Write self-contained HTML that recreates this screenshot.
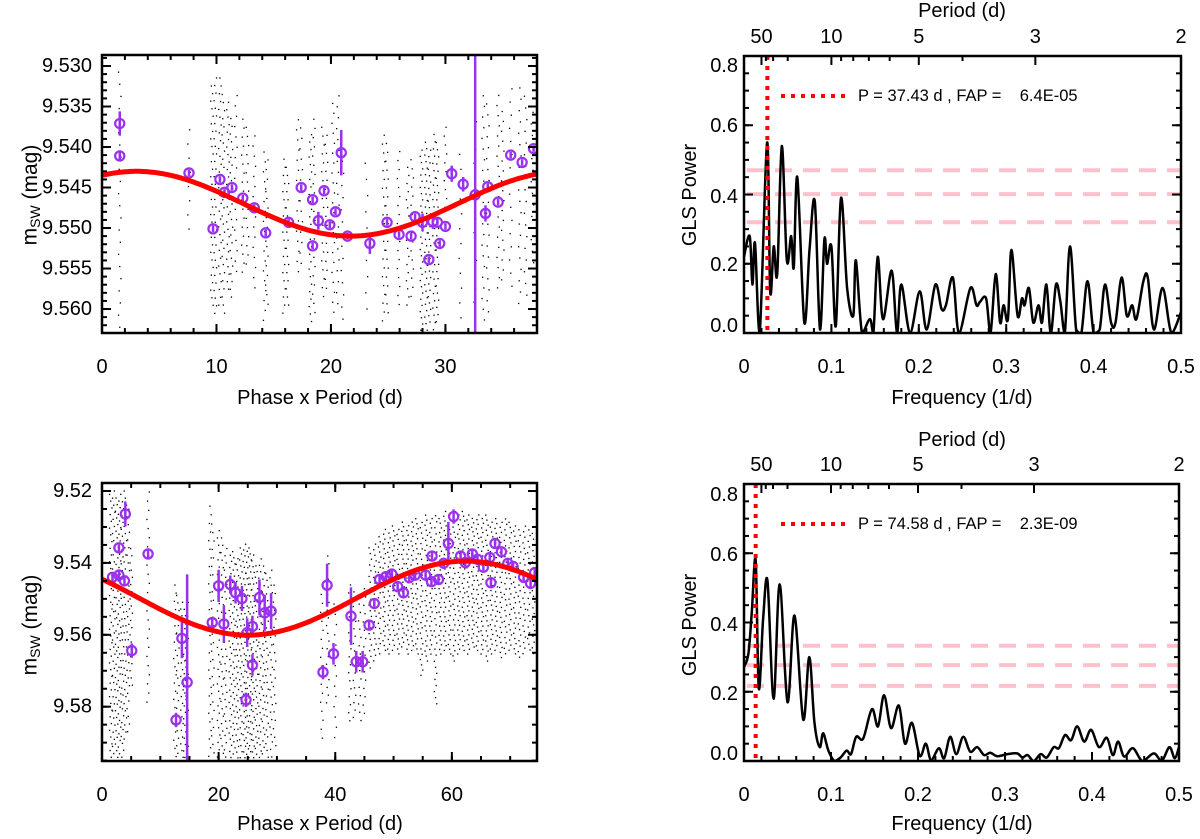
<!DOCTYPE html>
<html><head><meta charset="utf-8"><style>
html,body{margin:0;padding:0;background:#fff;}
svg{display:block;font-family:"Liberation Sans",Arial,sans-serif;}
</style></head><body>
<svg id="chart" width="1200" height="839" viewBox="0 0 1200 839" xmlns="http://www.w3.org/2000/svg">
<defs>
<clipPath id="cTL"><rect x="102" y="55" width="435" height="278"/></clipPath>
<clipPath id="cBL"><rect x="102" y="483" width="435" height="278"/></clipPath>
<clipPath id="cTR"><rect x="744" y="56" width="437" height="277"/></clipPath>
<clipPath id="cBR"><rect x="744" y="484" width="435" height="277"/></clipPath>
</defs>
</svg>
<script>
// ---------- DATA ----------
// Top-left: phase-folded light curve, P = 37.43 d
const tlPhase = [1.55,1.55,7.6,9.7,10.3,10.7,11.35,12.3,13.3,14.3,16.3,17.4,18.4,18.4,18.9,19.4,19.9,20.4,20.9,21.45,23.4,24.9,25.95,27.0,27.35,28.0,28.55,28.9,29.3,29.5,30.0,30.55,31.55,32.6,33.5,33.7,34.6,35.7,36.7,37.7];
const tlMag   = [9.5371,9.5411,9.5432,9.5501,9.5440,9.5456,9.5450,9.5463,9.5475,9.5506,9.5493,9.5450,9.5522,9.5465,9.5491,9.5454,9.5496,9.5480,9.5407,9.5510,9.5519,9.5493,9.5508,9.5510,9.5486,9.5493,9.5539,9.5492,9.5493,9.5519,9.5498,9.5433,9.5446,9.5459,9.5482,9.5449,9.5468,9.5410,9.5419,9.5402];
const tlErr   = [0.0015,0.0005,0.0004,0.0004,0.0004,0.0004,0.0004,0.0004,0.0004,0.0004,0.0004,0.0004,0.0004,0.0004,0.0011,0.0004,0.0004,0.0004,0.0028,0.0004,0.0013,0.0004,0.0004,0.0004,0.0004,0.0011,0.0004,0.0009,0.0004,0.0004,0.0004,0.0010,0.0009,0.0300,0.0010,0.0004,0.0004,0.0004,0.0004,0.0004];
const tlFit = [9.5470, 0.0040, 3.0, 37.43]; // mean, amplitude, phase of max brightness, period
// raw photometry columns: phase, top mag, bottom mag, number of points
const tlColX   = [1.55,7.6,9.6,9.9,10.3,10.6,11.0,11.3,11.7,12.3,12.7,13.3,14.2,14.4,15.9,16.2,17.1,17.4,18.2,18.5,19.3,19.6,20.2,20.6,21.0,23.1,24.6,24.9,25.9,26.7,27.1,27.9,28.3,28.6,29.0,29.3,30.0,31.3,32.6,33.3,33.7,34.6,35.0,35.7,36.5,37.0,37.6];
const tlColTop = [9.530,9.537,9.532,9.531,9.531,9.533,9.534,9.536,9.533,9.536,9.537,9.538,9.540,9.541,9.541,9.542,9.536,9.537,9.538,9.536,9.537,9.538,9.534,9.533,9.541,9.541,9.538,9.539,9.540,9.542,9.541,9.540,9.539,9.540,9.538,9.539,9.537,9.540,9.536,9.533,9.534,9.533,9.535,9.532,9.532,9.533,9.535];
const tlColBot = [9.563,9.551,9.560,9.561,9.560,9.561,9.558,9.559,9.556,9.556,9.555,9.558,9.562,9.560,9.561,9.560,9.556,9.555,9.562,9.561,9.559,9.558,9.561,9.560,9.562,9.561,9.562,9.561,9.560,9.560,9.559,9.563,9.563,9.562,9.563,9.562,9.548,9.562,9.560,9.562,9.561,9.558,9.557,9.558,9.560,9.559,9.555];
const tlColN   = [22,8,30,32,30,28,26,24,18,18,16,16,18,16,20,18,16,14,26,22,20,18,22,20,14,10,22,20,18,18,16,30,30,28,28,26,10,12,14,22,20,20,18,16,20,18,14];

// Bottom-left: phase-folded light curve, P = 74.58 d
const blPhase = [1.8,2.9,2.9,4.0,3.85,5.1,7.9,12.7,13.7,14.6,18.9,20.0,20.9,22.0,22.9,24.0,24.7,24.9,25.8,25.8,27.0,27.9,29.0,37.9,38.6,39.7,42.7,43.6,44.7,45.8,46.7,47.6,48.7,49.7,50.7,51.7,52.7,53.7,55.5,56.5,56.6,57.7,58.6,59.4,60.3,61.5,62.3,63.5,64.4,65.4,66.5,66.7,67.4,68.5,69.6,70.5,72.3,73.5,74.2];
const blMag   = [9.5440,9.5358,9.5434,9.5264,9.5450,9.5644,9.5375,9.5837,9.5610,9.5732,9.5566,9.5464,9.5570,9.5460,9.5483,9.5499,9.5781,9.5594,9.5577,9.5684,9.5496,9.5539,9.5534,9.5704,9.5462,9.5653,9.5548,9.5675,9.5675,9.5573,9.5513,9.5446,9.5438,9.5431,9.5466,9.5483,9.5441,9.5434,9.5434,9.5452,9.5381,9.5446,9.5401,9.5346,9.5271,9.5381,9.5399,9.5375,9.5390,9.5412,9.5385,9.5455,9.5346,9.5369,9.5401,9.5410,9.5440,9.5457,9.5427];
const blErr   = [0.001,0.001,0.001,0.0035,0.001,0.002,0.001,0.002,0.0055,0.030,0.0015,0.0045,0.005,0.0025,0.003,0.0035,0.002,0.004,0.003,0.003,0.005,0.005,0.005,0.002,0.006,0.003,0.008,0.003,0.003,0.001,0.001,0.001,0.001,0.001,0.001,0.001,0.001,0.001,0.001,0.001,0.001,0.001,0.001,0.006,0.002,0.001,0.001,0.001,0.001,0.001,0.001,0.0015,0.001,0.001,0.001,0.001,0.001,0.001,0.001];
const blFit = [9.5498, 0.0103, 62.3, 74.58];
const blColX   = [1.5,2.0,2.5,3.0,3.5,4.0,4.5,5.0,7.9,12.5,13.0,13.7,14.2,14.6,18.5,19.0,20.0,20.6,21.2,22.0,22.6,23.2,23.8,24.4,24.9,25.4,25.9,26.5,27.1,27.7,28.3,29.0,29.6,37.7,38.7,40.0,42.5,43.3,44.2,45.0,46.0,46.8,47.6,48.4,49.2,50.0,50.8,51.6,52.4,53.2,54.0,54.8,55.6,56.4,57.2,58.0,58.8,59.6,60.4,61.2,62.0,62.8,63.6,64.4,65.2,66.0,66.8,67.6,68.4,69.2,70.0,70.8,71.6,72.4,73.2,74.0];
const blColTop = [9.520,9.519,9.521,9.520,9.522,9.519,9.524,9.535,9.519,9.545,9.548,9.550,9.552,9.550,9.523,9.528,9.530,9.532,9.535,9.537,9.536,9.538,9.535,9.534,9.536,9.535,9.537,9.540,9.538,9.540,9.542,9.541,9.545,9.545,9.537,9.550,9.545,9.547,9.548,9.546,9.535,9.534,9.532,9.530,9.531,9.529,9.530,9.528,9.529,9.528,9.527,9.528,9.526,9.527,9.526,9.527,9.525,9.526,9.525,9.526,9.525,9.526,9.527,9.526,9.527,9.526,9.528,9.527,9.528,9.527,9.528,9.529,9.530,9.529,9.530,9.531];
const blColBot = [9.595,9.594,9.595,9.594,9.595,9.590,9.588,9.575,9.580,9.595,9.594,9.595,9.595,9.594,9.595,9.594,9.595,9.594,9.595,9.595,9.594,9.595,9.595,9.595,9.594,9.595,9.595,9.594,9.595,9.594,9.595,9.595,9.592,9.590,9.580,9.590,9.585,9.584,9.585,9.583,9.570,9.568,9.566,9.565,9.566,9.565,9.566,9.564,9.566,9.565,9.566,9.572,9.568,9.566,9.580,9.566,9.565,9.566,9.568,9.566,9.565,9.566,9.564,9.565,9.566,9.568,9.566,9.565,9.567,9.566,9.565,9.566,9.567,9.566,9.565,9.566];
const blColN   = [40,38,40,40,38,36,30,20,24,22,22,24,24,22,30,28,32,30,30,34,34,36,36,38,38,36,36,34,32,30,28,26,20,18,20,14,18,18,16,16,22,22,24,26,26,26,26,28,28,28,28,30,30,30,32,30,30,30,30,30,30,30,30,30,30,30,28,28,28,26,26,26,24,24,22,22];

// Top-right periodogram
const trFreq  = [0,0.0065,0.0096,0.0126,0.018,0.0264,0.030,0.034,0.038,0.0433,0.049,0.054,0.057,0.061,0.069,0.075,0.081,0.087,0.092,0.095,0.100,0.105,0.111,0.118,0.125,0.128,0.135,0.144,0.148,0.153,0.159,0.169,0.175,0.180,0.190,0.201,0.209,0.219,0.226,0.231,0.239,0.246,0.259,0.266,0.270,0.277,0.282,0.288,0.293,0.297,0.302,0.306,0.313,0.318,0.321,0.326,0.331,0.337,0.341,0.346,0.351,0.357,0.362,0.367,0.373,0.380,0.386,0.393,0.400,0.407,0.413,0.420,0.425,0.432,0.438,0.444,0.449,0.457,0.462,0.469,0.479,0.489,0.500];
const trPower = [0.22,0.28,0.14,0.26,0.0,0.55,0.12,0.25,0.17,0.54,0.21,0.28,0.19,0.45,0.03,0.24,0.38,0.01,0.27,0.20,0.25,0.02,0.39,0.13,0.05,0.21,0.0,0.04,0.0,0.22,0.04,0.18,0.0,0.14,0.0,0.12,0.01,0.14,0.07,0.08,0.16,0.0,0.13,0.08,0.09,0.10,0.0,0.17,0.03,0.08,0.04,0.24,0.05,0.10,0.08,0.13,0.03,0.08,0.03,0.14,0.0,0.14,0.09,0.0,0.25,0.01,0.0,0.15,0.0,0.01,0.14,0.03,0.03,0.16,0.05,0.08,0.04,0.15,0.16,0.01,0.13,0.0,0.06];
const trFap = [0.470,0.401,0.320];
const trBest = 37.43;
const trLabel = "P = 37.43 d , FAP =    6.4E-05";

// Bottom-right periodogram
const brFreq  = [0,0.005,0.009,0.0134,0.017,0.022,0.027,0.034,0.041,0.050,0.058,0.068,0.075,0.081,0.087,0.091,0.097,0.104,0.111,0.118,0.123,0.129,0.137,0.147,0.154,0.161,0.169,0.178,0.185,0.193,0.202,0.209,0.215,0.224,0.230,0.237,0.244,0.252,0.260,0.268,0.276,0.283,0.291,0.303,0.314,0.320,0.326,0.333,0.341,0.348,0.356,0.362,0.369,0.376,0.383,0.391,0.399,0.408,0.417,0.424,0.430,0.437,0.447,0.458,0.471,0.480,0.489,0.495,0.500];
const brPower = [0.27,0.31,0.43,0.58,0.21,0.41,0.52,0.18,0.51,0.17,0.42,0.12,0.30,0.11,0.04,0.08,0.03,0.0,0.01,0.03,0.02,0.07,0.065,0.15,0.10,0.19,0.095,0.16,0.05,0.11,0.015,0.05,0.003,0.037,0.008,0.07,0.02,0.07,0.027,0.04,0.017,0.024,0.014,0.02,0.022,0.01,0.017,0.0,0.02,0.01,0.04,0.037,0.075,0.06,0.10,0.056,0.09,0.04,0.067,0.017,0.056,0.013,0.037,0.0,0.022,0.0,0.04,0.008,0.04];
const brFap = [0.333,0.277,0.217];
const brBest = 74.58;
const brLabel = "P = 74.58 d , FAP =    2.3E-09";

const periodTicks = [50,10,5,3,2];
const periodMinor = [40,30,20,9,8,7,6,4];

// ---------- DRAWING ----------
const NS = "http://www.w3.org/2000/svg";
const svg = document.getElementById('chart');
function mk(tag, attrs, parent){
  const e = document.createElementNS(NS, tag);
  for (const k in attrs) e.setAttribute(k, attrs[k]);
  (parent||svg).appendChild(e);
  return e;
}
function txt(s, x, y, size, anchor, parent, rot){
  const t = mk('text', {x:x, y:y, 'font-size':size, 'text-anchor':anchor||'middle', 'dominant-baseline':'central', fill:'#000'}, parent);
  if (rot) t.setAttribute('transform', 'rotate(-90 '+x+' '+y+')');
  t.textContent = s;
  return t;
}
function panel(x0,x1,y0,y1,xmin,xmax,ymin,ymax,invert){
  return {x0,x1,y0,y1,
    sx: v => x0 + (v-xmin)/(xmax-xmin)*(x1-x0),
    sy: v => invert ? y0 + (v-ymin)/(ymax-ymin)*(y1-y0) : y1 - (v-ymin)/(ymax-ymin)*(y1-y0)};
}
function frame(p, name){
  const r = mk('rect', {x:p.x0, y:p.y0, width:p.x1-p.x0, height:p.y1-p.y0, fill:'none', stroke:'#000', 'stroke-width':2.5});
  
  
}
function xticks(p, vals, len, bothSides){
  const g = mk('g', {stroke:'#000','stroke-width':2});
  vals.forEach(v => {
    const x = p.sx(v);
    mk('line', {x1:x, x2:x, y1:p.y1, y2:p.y1-len}, g);
    if (bothSides) mk('line', {x1:x, x2:x, y1:p.y0, y2:p.y0+len}, g);
  });
  return g;
}
function yticks(p, vals, len){
  const g = mk('g', {stroke:'#000','stroke-width':2});
  vals.forEach(v => {
    const y = p.sy(v);
    mk('line', {x1:p.x0, x2:p.x0+len, y1:y, y2:y}, g);
    mk('line', {x1:p.x1, x2:p.x1-len, y1:y, y2:y}, g);
  });
  return g;
}
function range(a,b,s){ const r=[]; for(let v=a; v<=b+1e-9; v+=s) r.push(+v.toFixed(6)); return r; }

function lightPanel(p, clip, phase, mag, err, fit, colX, colTop, colBot, colN, xmax, prefix){
  const g = mk('g', {'clip-path':'url(#'+clip+')'});
  
  
  const dg = mk('g', {fill:'#000'}, g);
  
  
  colX.forEach((cx, i) => {
    const n = colN[i];
    for (let k=0; k<n; k++){
      const v = colTop[i] + (colBot[i]-colTop[i]) * (k+0.5)/n;
      const jx = ((k*7 + i*3) % 5 - 2) * 0.6;
      mk('rect', {x:(p.sx(cx)+jx-0.6).toFixed(1), y:(p.sy(v)-0.6).toFixed(1), width:1.3, height:1.3}, dg);
    }
  });
  let d = '';
  for (let i=0; i<=200; i++){
    const x = xmax*i/200;
    const y = fit[0] - fit[1]*Math.cos(2*Math.PI*(x-fit[2])/fit[3]);
    d += (i?'L':'M') + p.sx(x).toFixed(1) + ',' + p.sy(y).toFixed(1);
  }
  const bg = mk('g', {stroke:'#9b30f0', fill:'none', 'stroke-width':2.2}, g);
  
  
  phase.forEach((ph, i) => {
    const x = p.sx(ph);
    mk('line', {x1:x, x2:x, y1:p.sy(mag[i]-err[i]), y2:p.sy(mag[i]+err[i]), 'stroke-width':2.5}, bg);
  });
  const fc = mk('path', {d:d, stroke:'#ff0000', 'stroke-width':5, fill:'none'}, g);
  
  
  phase.forEach((ph, i) => {
    const c = mk('circle', {cx:p.sx(ph), cy:p.sy(mag[i]), r:4.6, stroke:'#9b30f0', fill:'none', 'stroke-width':2.2}, bg);
    
    
  });
}

function glsPanel(p, clip, freq, power, fap, best, label, prefix, legY){
  const g = mk('g', {'clip-path':'url(#'+clip+')'});
  
  
  fap.forEach((f, i) => {
    const l = mk('line', {x1:p.x0, x2:p.x1, y1:p.sy(f), y2:p.sy(f), stroke:'#ffc0cb', 'stroke-width':4, 'stroke-dasharray':'17 11', 'stroke-dashoffset':'-3'}, g);
    
    
  });
  const pts = freq.map((f,i) => [p.sx(f), p.sy(power[i])]);
  let d = 'M'+pts[0][0].toFixed(1)+','+pts[0][1].toFixed(1);
  for (let i=0; i<pts.length-1; i++){
    const p0 = pts[Math.max(0,i-1)], p1 = pts[i], p2 = pts[i+1], p3 = pts[Math.min(pts.length-1,i+2)];
    const c1 = [p1[0]+(p2[0]-p0[0])/6, p1[1]+(p2[1]-p0[1])/6];
    const c2 = [p2[0]-(p3[0]-p1[0])/6, p2[1]-(p3[1]-p1[1])/6];
    c1[1] = Math.min(c1[1], p.y1); c2[1] = Math.min(c2[1], p.y1);
    d += 'C'+c1[0].toFixed(1)+','+c1[1].toFixed(1)+' '+c2[0].toFixed(1)+','+c2[1].toFixed(1)+' '+p2[0].toFixed(1)+','+p2[1].toFixed(1);
  }
  const pc = mk('path', {d:d, stroke:'#000', 'stroke-width':2.5, fill:'none', 'stroke-linejoin':'round'}, g);
  
  
  const bx = p.sx(1/best);
  const bl = mk('line', {x1:bx, x2:bx, y1:p.y0, y2:p.y1, stroke:'#ff0000', 'stroke-width':4, 'stroke-dasharray':'4 6'}, g);
  
  
  const lg = mk('g', {});
  
  
  mk('line', {x1:781, x2:845, y1:legY, y2:legY, stroke:'#ff0000', 'stroke-width':4, 'stroke-dasharray':'4 6'}, lg);
  const t = txt(label, 858, legY, 16.5, 'start', lg);
  t.setAttribute('xml:space', 'preserve');
  t.style.whiteSpace = 'pre';
}

function periodAxis(p, numY, titleY, prefix){
  const tg = mk('g', {stroke:'#000','stroke-width':2});
  periodTicks.forEach(v => { const x=p.sx(1/v); mk('line', {x1:x,x2:x,y1:p.y0,y2:p.y0+9}, tg); });
  periodMinor.forEach(v => { const x=p.sx(1/v); mk('line', {x1:x,x2:x,y1:p.y0,y2:p.y0+5}, tg); });
  periodTicks.forEach(v => {
    const t = txt(String(v), p.sx(1/v), numY, 20, 'middle');
    
    
  });
  const tt = txt('Period (d)', 962, titleY, 20, 'middle');
  
  
}

// ---- Top-left ----
const pTL = panel(102,537,55,333,0,38,9.52864,9.56296,true);
lightPanel(pTL,'cTL',tlPhase,tlMag,tlErr,tlFit,tlColX,tlColTop,tlColBot,tlColN,38,'top-light-curve');
xticks(pTL, range(0,38,10), 9, true); xticks(pTL, range(0,38,2), 5, true);
yticks(pTL, range(9.530,9.560,0.005), 9); yticks(pTL, range(9.529,9.562,0.001), 5);
frame(pTL,'top-light-curve-frame');
[0,10,20,30].forEach(v => { const t=txt(String(v), pTL.sx(v), 367, 20);   });
['9.530','9.535','9.540','9.545','9.550','9.555','9.560'].forEach(s => { const t=txt(s, 92, pTL.sy(+s), 20, 'end');   });
(function(){ const t=txt('Phase x Period (d)', 320, 398, 20);  })();

// ---- Bottom-left ----
const pBL = panel(102,537,483,761,0,74.6,9.51777,9.59511,true);
lightPanel(pBL,'cBL',blPhase,blMag,blErr,blFit,blColX,blColTop,blColBot,blColN,74.6,'bottom-light-curve');
xticks(pBL, range(0,74,20), 9, true); xticks(pBL, range(0,74,5), 5, true);
yticks(pBL, range(9.52,9.59,0.02), 9); yticks(pBL, range(9.52,9.595,0.005), 5);
frame(pBL,'bottom-light-curve-frame');
[0,20,40,60].forEach(v => { const t=txt(String(v), pBL.sx(v), 795, 20);   });
['9.52','9.54','9.56','9.58'].forEach(s => { const t=txt(s, 92, pBL.sy(+s), 20, 'end');   });
(function(){ const t=txt('Phase x Period (d)', 320, 824, 20);  })();

[[195,'top'],[625,'bottom']].forEach(([cy,w]) => {
  const t = mk('text', {x:30, y:cy, 'font-size':21, 'text-anchor':'middle', 'dominant-baseline':'central', transform:'rotate(-90 30 '+cy+')'});
  
  
  t.appendChild(document.createTextNode('m'));
  const s = mk('tspan', {'font-size':14, dy:5}, t); s.textContent='SW';
  const s2 = mk('tspan', {dy:-5}, t); s2.textContent=' (mag)';
});

// ---- Top-right ----
const pTR = panel(744,1181,56,333,0,0.5,0,0.8,false);
glsPanel(pTR,'cTR',trFreq,trPower,trFap,trBest,trLabel,'top-gls',96);
xticks(pTR, range(0,0.5,0.1), 9, false); xticks(pTR, range(0,0.5,0.02), 5, false);
yticks(pTR, range(0,0.8,0.2), 9); yticks(pTR, range(0,0.8,0.05), 5);
frame(pTR,'top-gls-frame');
periodAxis(pTR, 37, 11, 'top');
['0','0.1','0.2','0.3','0.4','0.5'].forEach(s => { const t=txt(s, pTR.sx(+s), 367, 20);   });
[['0.8',66],['0.6',126],['0.4',197],['0.2',265],['0.0',326]].forEach(([s,y]) => { const t=txt(s, 738, y, 20, 'end');   });
(function(){ const t=txt('Frequency (1/d)', 962, 398, 20);  })();

// ---- Bottom-right ----
const pBR = panel(744,1179,484,761,0,0.5,0,0.8,false);
glsPanel(pBR,'cBR',brFreq,brPower,brFap,brBest,brLabel,'bottom-gls',524);
xticks(pBR, range(0,0.5,0.1), 9, false); xticks(pBR, range(0,0.5,0.02), 5, false);
yticks(pBR, range(0,0.8,0.2), 9); yticks(pBR, range(0,0.8,0.05), 5);
frame(pBR,'bottom-gls-frame');
periodAxis(pBR, 465, 440, 'bottom');
['0','0.1','0.2','0.3','0.4','0.5'].forEach(s => { const t=txt(s, pBR.sx(+s), 795, 20);   });
[['0.8',495],['0.6',555],['0.4',625],['0.2',694],['0.0',754]].forEach(([s,y]) => { const t=txt(s, 738, y, 20, 'end');   });
(function(){ const t=txt('Frequency (1/d)', 962, 824, 20);  })();

[[195,'top'],[625,'bottom']].forEach(([cy,w]) => {
  const t = txt('GLS Power', 690, cy, 20, 'middle', svg, true);
  
  
});
</script>
</body></html>
